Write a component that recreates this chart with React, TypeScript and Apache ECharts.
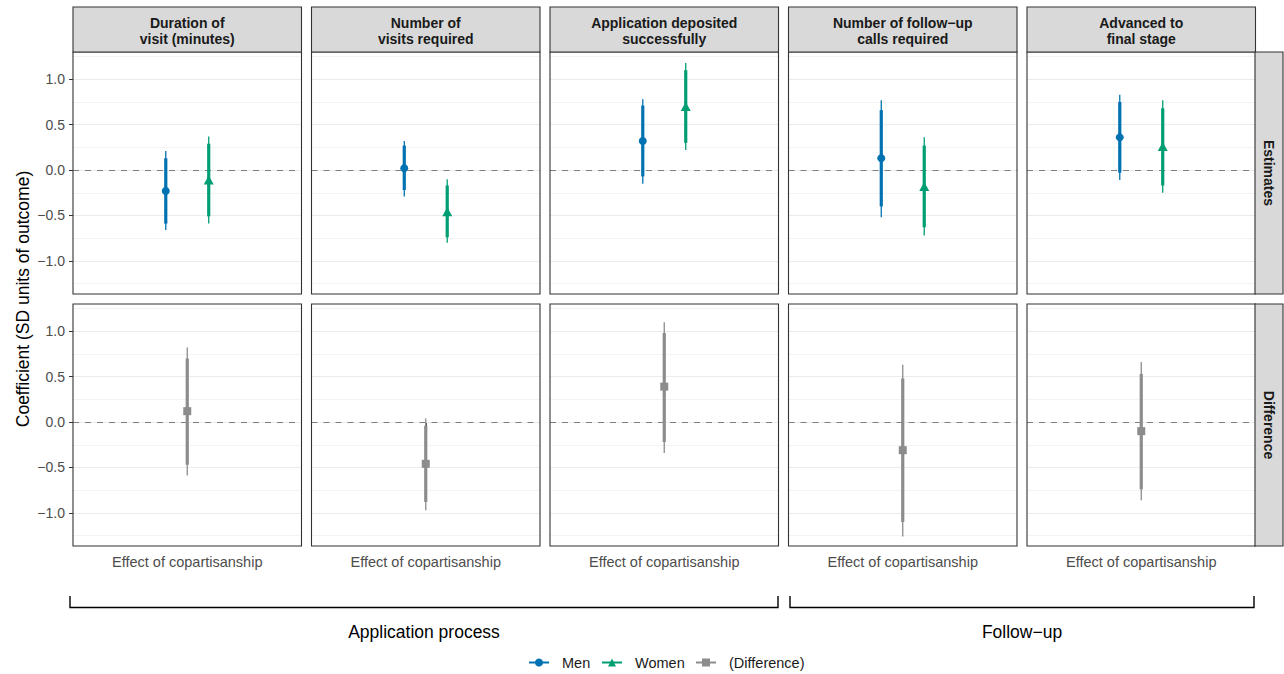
import React, { useEffect, useRef } from "react";
import * as echarts from "echarts";

// ---------- data ----------
const facetLabels = [
  "Duration of\nvisit (minutes)",
  "Number of\nvisits required",
  "Application deposited\nsuccessfully",
  "Number of follow−up\ncalls required",
  "Advanced to\nfinal stage",
];
const rowLabels = ["Estimates", "Difference"];
const xCategory = "Effect of copartisanship";
const groupLabels = ["Application process", "Follow−up"];
const seriesNames = ["Men", "Women", "(Difference)"];
const yTicks = [-1, -0.5, 0, 0.5, 1];
const yMinorTicks = [-1.25, -0.75, -0.25, 0.25, 0.75, 1.25];

// Men
const menEst = [-0.23, 0.02, 0.32, 0.13, 0.36];
const menLo90 = [-0.59, -0.22, -0.07, -0.40, -0.03];
const menHi90 = [0.13, 0.27, 0.71, 0.66, 0.75];
const menLo95 = [-0.66, -0.29, -0.15, -0.52, -0.11];
const menHi95 = [0.21, 0.32, 0.78, 0.77, 0.83];
// Women
const womenEst = [-0.11, -0.46, 0.7, -0.18, 0.26];
const womenLo90 = [-0.51, -0.74, 0.3, -0.63, -0.17];
const womenHi90 = [0.29, -0.17, 1.1, 0.27, 0.68];
const womenLo95 = [-0.59, -0.8, 0.22, -0.72, -0.25];
const womenHi95 = [0.37, -0.1, 1.18, 0.36, 0.77];
// Difference
const diffEst = [0.12, -0.46, 0.39, -0.31, -0.1];
const diffLo90 = [-0.47, -0.88, -0.22, -1.1, -0.74];
const diffHi90 = [0.7, -0.04, 0.98, 0.48, 0.53];
const diffLo95 = [-0.59, -0.97, -0.34, -1.26, -0.86];
const diffHi95 = [0.82, 0.04, 1.1, 0.63, 0.66];

// ---------- layout / style ----------
const FONT = '"Liberation Sans", Arial, Helvetica, sans-serif';
const MEN_COLOR = "#0072B2";
const WOMEN_COLOR = "#009E73";
const DIFF_COLOR = "#8C8C8C";
const Y_MIN = -1.365;
const Y_MAX = 1.3;
const DODGE = 0.094;
const PANEL_LEFT0 = 73;
const PANEL_STEP = 238.5;
const PANEL_W = 228.5;
const ROW_TOP = [52, 304];
const PANEL_H = 242;
const STRIP_TOP = 7;
const STRIP_H = 45;
const RSTRIP_X = 1255;
const RSTRIP_W = 28;
const LEGEND_LEFTS = [528, 601, 695];

const panelLeft = (c: number) => PANEL_LEFT0 + c * PANEL_STEP;

const fmtY = (v: number) => {
  const s = Math.abs(v) < 1e-9 ? "0.0" : v.toFixed(1);
  return s.replace("-", "\u2212");
};

const intervalRender = (color: string) => (params: any, api: any) => {
  const x = api.value(0);
  const lo95 = api.coord([x, api.value(1)]);
  const hi95 = api.coord([x, api.value(2)]);
  const lo90 = api.coord([x, api.value(3)]);
  const hi90 = api.coord([x, api.value(4)]);
  return {
    type: "group",
    children: [
      {
        type: "line",
        shape: { x1: lo95[0], y1: lo95[1], x2: hi95[0], y2: hi95[1] },
        style: { stroke: color, lineWidth: 1.3 },
      },
      {
        type: "line",
        shape: { x1: lo90[0], y1: lo90[1], x2: hi90[0], y2: hi90[1] },
        style: { stroke: color, lineWidth: 3.2 },
      },
    ],
  };
};

function buildOption() {
  const grids: any[] = [];
  const xAxes: any[] = [];
  const yAxes: any[] = [];
  const series: any[] = [];
  const graphics: any[] = [];

  const groups = [
    { name: seriesNames[0], color: MEN_COLOR, symbol: "circle", size: 8, row: 0, dx: -DODGE, est: menEst, lo90: menLo90, hi90: menHi90, lo95: menLo95, hi95: menHi95 },
    { name: seriesNames[1], color: WOMEN_COLOR, symbol: "triangle", size: [10, 9], row: 0, dx: DODGE, est: womenEst, lo90: womenLo90, hi90: womenHi90, lo95: womenLo95, hi95: womenHi95 },
    { name: seriesNames[2], color: DIFF_COLOR, symbol: "rect", size: 8, row: 1, dx: 0, est: diffEst, lo90: diffLo90, hi90: diffHi90, lo95: diffLo95, hi95: diffHi95 },
  ];

  for (let r = 0; r < 2; r++) {
    for (let c = 0; c < 5; c++) {
      const gi = r * 5 + c;
      grids.push({ left: panelLeft(c), top: ROW_TOP[r], width: PANEL_W, height: PANEL_H, show: false });
      xAxes.push({
        gridIndex: gi,
        type: "value",
        min: 0,
        max: 1,
        show: r === 1,
        axisLine: { show: false },
        splitLine: { show: false },
        axisTick: { show: true, customValues: [0.5], length: 4, lineStyle: { color: "#333333", width: 1 } },
        axisLabel: {
          show: true,
          customValues: [0.5],
          formatter: () => xCategory,
          color: "#4D4D4D",
          fontSize: 14.5,
          fontFamily: FONT,
          margin: 8,
        },
      });
      yAxes.push({
        gridIndex: gi,
        type: "value",
        min: Y_MIN,
        max: Y_MAX,
        show: c === 0,
        axisLine: { show: false },
        splitLine: { show: false },
        axisTick: { show: true, customValues: yTicks, length: 4, lineStyle: { color: "#333333", width: 1 } },
        axisLabel: {
          show: true,
          customValues: yTicks,
          formatter: fmtY,
          color: "#4D4D4D",
          fontSize: 14,
          fontFamily: FONT,
          margin: 8,
        },
      });
      series.push({
        type: "line",
        xAxisIndex: gi,
        yAxisIndex: gi,
        data: [[0.5, 0]],
        symbol: "none",
        silent: true,
        z: 1,
        lineStyle: { opacity: 0 },
        markLine: {
          silent: true,
          symbol: ["none", "none"],
          label: { show: false },
          animation: false,
          data: [
            ...yMinorTicks.map((v) => ({ yAxis: v, lineStyle: { color: "#EBEBEB", width: 0.6, type: "solid" } })),
            ...yTicks.map((v) => ({ yAxis: v, lineStyle: { color: "#EBEBEB", width: 1.1, type: "solid" } })),
            { yAxis: 0, lineStyle: { color: "#7F7F7F", width: 1.1, type: [6, 6] } },
          ],
        },
      });
    }
  }

  for (const g of groups) {
    for (let c = 0; c < 5; c++) {
      const gi = g.row * 5 + c;
      const x = 0.5 + g.dx;
      series.push({
        type: "custom",
        xAxisIndex: gi,
        yAxisIndex: gi,
        silent: true,
        z: 5,
        data: [[x, g.lo95[c], g.hi95[c], g.lo90[c], g.hi90[c]]],
        encode: { x: 0, y: [1, 2, 3, 4] },
        renderItem: intervalRender(g.color),
      });
      series.push({
        type: "line",
        name: g.name,
        xAxisIndex: gi,
        yAxisIndex: gi,
        data: [[x, g.est[c]]],
        symbol: g.symbol,
        symbolSize: g.size,
        showSymbol: true,
        itemStyle: { color: g.color },
        lineStyle: { color: g.color, width: 3 },
        z: 10,
        silent: true,
      });
    }
  }

  for (let c = 0; c < 5; c++) {
    const x = panelLeft(c);
    for (let r = 0; r < 2; r++) {
      graphics.push({
        type: "rect",
        z: 100,
        silent: true,
        shape: { x, y: ROW_TOP[r], width: PANEL_W, height: PANEL_H },
        style: { fill: "none", stroke: "#333333", lineWidth: 1.1 },
      });
    }
    graphics.push({
      type: "rect",
      z: 100,
      silent: true,
      shape: { x, y: STRIP_TOP, width: PANEL_W, height: STRIP_H },
      style: { fill: "#D9D9D9", stroke: "#333333", lineWidth: 1.1 },
    });
    graphics.push({
      type: "text",
      z: 101,
      silent: true,
      x: x + PANEL_W / 2,
      y: STRIP_TOP + STRIP_H / 2 + 1,
      style: {
        text: facetLabels[c],
        fill: "#1A1A1A",
        fontSize: 14,
        fontWeight: "bold",
        fontFamily: FONT,
        align: "center",
        verticalAlign: "middle",
        lineHeight: 16,
      },
    });
  }
  for (let r = 0; r < 2; r++) {
    graphics.push({
      type: "rect",
      z: 100,
      silent: true,
      shape: { x: RSTRIP_X, y: ROW_TOP[r], width: RSTRIP_W, height: PANEL_H },
      style: { fill: "#D9D9D9", stroke: "#333333", lineWidth: 1.1 },
    });
    graphics.push({
      type: "text",
      z: 101,
      silent: true,
      x: RSTRIP_X + RSTRIP_W / 2,
      y: ROW_TOP[r] + PANEL_H / 2,
      rotation: -Math.PI / 2,
      style: {
        text: rowLabels[r],
        fill: "#1A1A1A",
        fontSize: 14,
        fontWeight: "bold",
        fontFamily: FONT,
        align: "center",
        verticalAlign: "middle",
      },
    });
  }
  graphics.push({
    type: "text",
    z: 101,
    silent: true,
    x: 23,
    y: (ROW_TOP[0] + ROW_TOP[1] + PANEL_H) / 2,
    rotation: Math.PI / 2,
    style: {
      text: "Coefficient (SD units of outcome)",
      fill: "#000000",
      fontSize: 17.5,
      fontFamily: FONT,
      align: "center",
      verticalAlign: "middle",
    },
  });
  const brackets = [
    [70, 778],
    [790, 1254],
  ];
  brackets.forEach(([a, b], i) => {
    graphics.push({
      type: "polyline",
      z: 100,
      silent: true,
      shape: { points: [[a, 596], [a, 607.5], [b, 607.5], [b, 596]] },
      style: { fill: "none", stroke: "#000000", lineWidth: 1.4 },
    });
    graphics.push({
      type: "text",
      z: 101,
      silent: true,
      x: (a + b) / 2,
      y: 632,
      style: {
        text: groupLabels[i],
        fill: "#000000",
        fontSize: 17.5,
        fontFamily: FONT,
        align: "center",
        verticalAlign: "middle",
      },
    });
  });

  const legends = seriesNames.map((n, i) => ({
    data: [n],
    left: LEGEND_LEFTS[i],
    top: 655,
    itemWidth: 20,
    itemHeight: 10,
    padding: 0,
    selectedMode: false,
    textStyle: { fontSize: 14.5, color: "#1A1A1A", fontFamily: FONT, padding: [0, 0, 0, 8] },
  }));

  return {
    animation: false,
    backgroundColor: "#FFFFFF",
    textStyle: { fontFamily: FONT },
    grid: grids,
    xAxis: xAxes,
    yAxis: yAxes,
    series,
    graphic: graphics,
    legend: legends,
  };
}

export default function App() {
  const ref = useRef<HTMLDivElement>(null);
  useEffect(() => {
    if (!ref.current) return;
    const chart = echarts.init(ref.current, null, { renderer: "svg" });
    chart.setOption(buildOption() as any);
    return () => chart.dispose();
  }, []);
  return (
    <div
      ref={ref}
      style={{ position: "absolute", left: 0, top: 0, width: 1284, height: 674, background: "#FFFFFF" }}
    />
  );
}
